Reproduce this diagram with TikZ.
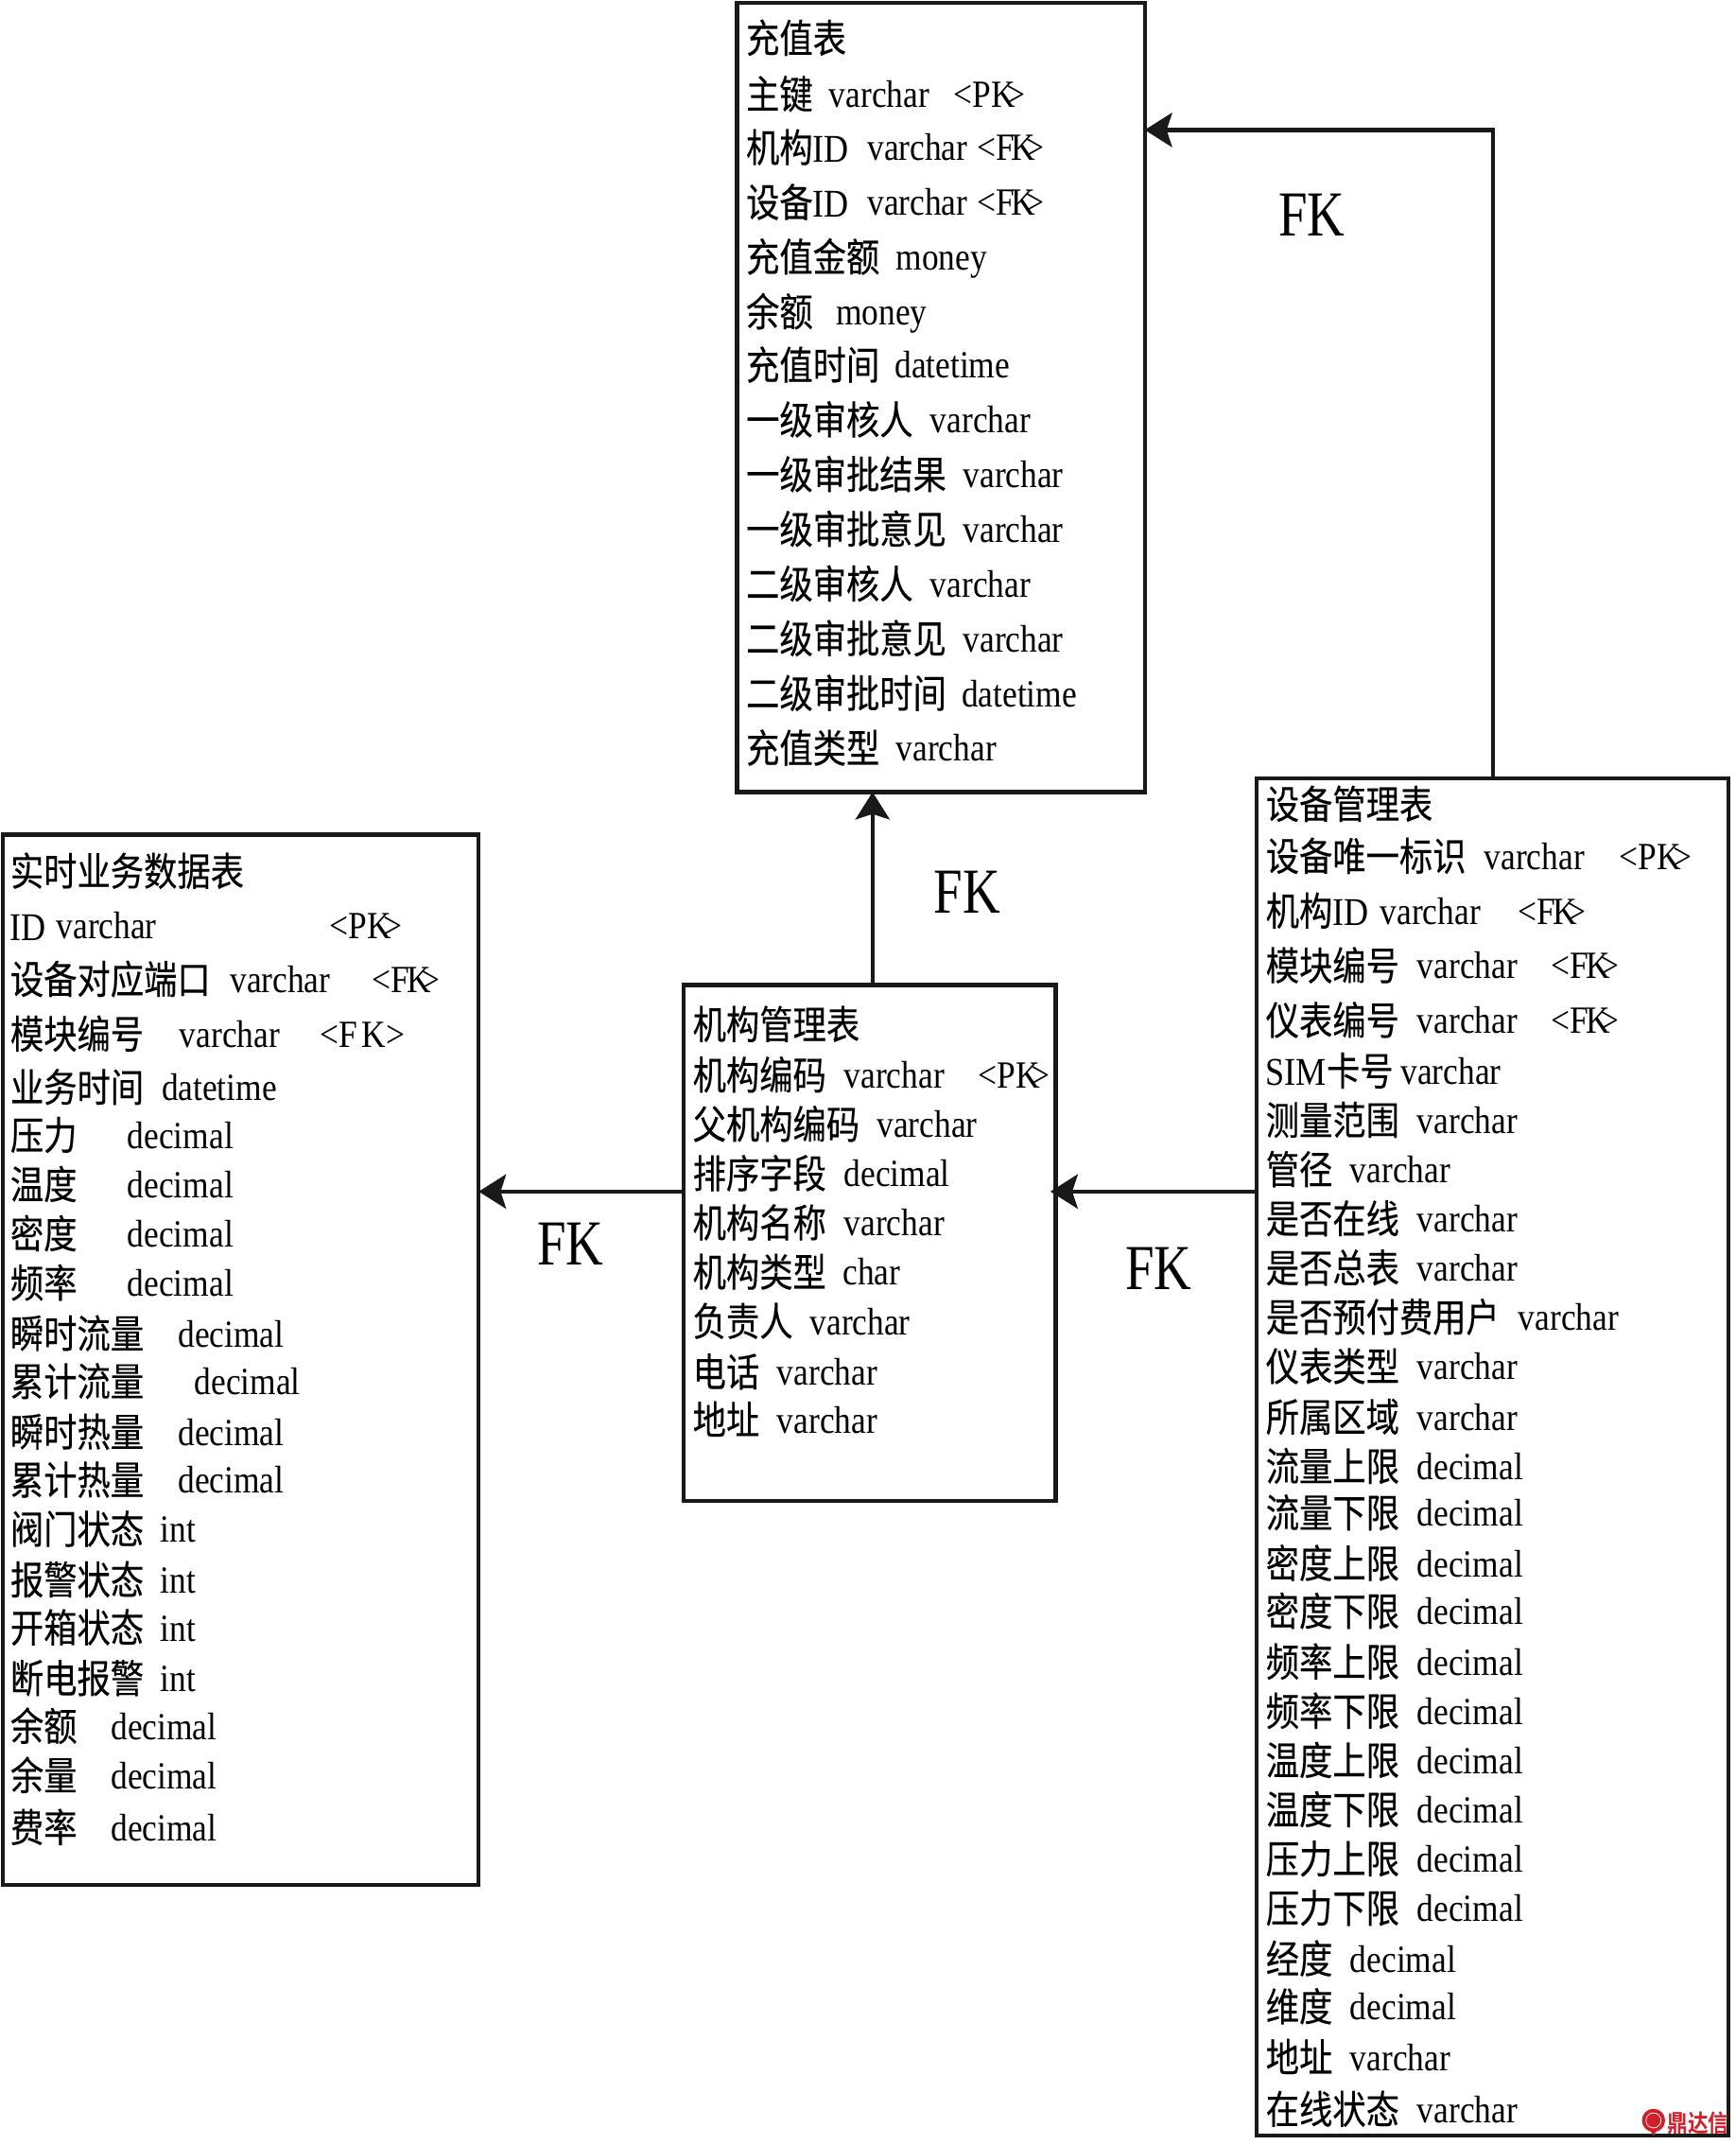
\documentclass[tikz,border=0pt]{standalone}
\usepackage{fontspec}
\setmainfont{Liberation Serif}
\newfontfamily\cjk[FakeStretch=0.85,FakeBold=0.25]{Noto Sans CJK SC}
\newfontfamily\cjkmark[FakeStretch=0.85]{Noto Sans CJK SC Bold}
\newfontfamily\lat[FakeStretch=0.87]{Liberation Serif}
\newfontfamily\labelfont[FakeStretch=0.81]{Liberation Serif}
\usetikzlibrary{arrows.meta}
\definecolor{markred}{HTML}{D0202A}
\newcommand{\pktag}{<PK\kern-.22em>}
\newcommand{\fktag}{<F\kern-.08em K\kern-.25em>}
\newcommand{\tablerows}[3]{%
	\foreach \ypos/\fname/\xtype/\ftype [count=\i] in {#3} {
		\node[field] (#1-\i) at (#2,\ypos) {\fname};
		\node[typetag] (#1-type-\i) at (\xtype,\ypos) {\ftype};
	}}
\tikzset{
	tablebox/.style={draw=black!90, line width=0.9mm, anchor=north west, inner sep=0pt, outer sep=0pt},
	field/.style={anchor=base west, inner sep=0pt, xshift=-0.2mm, yshift=-0.15mm, font=\cjk\fontsize{24.5}{28}\selectfont},
	typetag/.style={anchor=base west, inner sep=0pt, yshift=0.15mm, font=\lat\fontsize{24}{28}\selectfont},
	fklabel/.style={inner sep=0pt, font=\labelfont\fontsize{40}{44}\selectfont},
	link/.style={draw=black!90, line width=0.9mm, -{Stealth[length=6mm,width=7.5mm,inset=1.2mm]}}
}

\begin{document}
\begin{tikzpicture}[x=0.3mm, y=-0.3mm]
		\useasboundingbox (0,0) rectangle (1269,1568);
		% recharge table
		\node[tablebox, minimum width=89.4mm, minimum height=173.1mm] (recharge) at (539,2) {};
		\node[field] (recharge-title) at (546,38) {充值表};
		\tablerows{rc}{546}{
			79/主键/606/varchar,
			118/机构{\lat ID}/634/varchar,
			158/设备{\lat ID}/634/varchar,
			198/充值金额/655/money,
			238/余额/611/money,
			277/充值时间/654/datetime,
			317/一级审核人/680/varchar,
			357/一级审批结果/704/varchar,
			397/一级审批意见/704/varchar,
			437/二级审核人/680/varchar,
			477/二级审批意见/704/varchar,
			517/二级审批时间/703/datetime,
			557/充值类型/655/varchar}
		\node[typetag] (rc-pk) at (697,79) {\pktag};
		\node[typetag] (rc-fk1) at (714,118) {\fktag};
		\node[typetag] (rc-fk2) at (714,158) {\fktag};
		% realtime table
		\node[tablebox, minimum width=104.4mm, minimum height=230.4mm] (realtime) at (2,610) {};
		\node[field] (realtime-title) at (8,647) {实时业务数据表};
		\tablerows{rt}{8}{
			687/{\lat ID}/41/varchar,
			726/设备对应端口/168/varchar,
			766/模块编号/131/varchar,
			805/业务时间/118/datetime,
			840/压力/93/decimal,
			876/温度/93/decimal,
			912/密度/93/decimal,
			948/频率/93/decimal,
			985/瞬时流量/130/decimal,
			1020/累计流量/142/decimal,
			1057/瞬时热量/130/decimal,
			1092/累计热量/130/decimal,
			1128/阀门状态/117/int,
			1165/报警状态/117/int,
			1200/开箱状态/117/int,
			1237/断电报警/117/int,
			1272/余额/81/decimal,
			1308/余量/81/decimal,
			1346/费率/81/decimal}
		\node[typetag] (rt-pk) at (241,687) {\pktag};
		\node[typetag] (rt-fk1) at (272,726) {\fktag};
		\node[typetag] (rt-fk2) at (234,766) {<F\kern.1em K>};
		% organisation table
		\node[tablebox, minimum width=81.6mm, minimum height=113.1mm] (org) at (500,720) {};
		\node[field] (org-title) at (507,759) {机构管理表};
		\tablerows{og}{507}{
			796/机构编码/617/varchar,
			832/父机构编码/641/varchar,
			868/排序字段/617/decimal,
			904/机构名称/617/varchar,
			940/机构类型/616/char,
			976/负责人/592/varchar,
			1013/电话/568/varchar,
			1048/地址/568/varchar}
		\node[typetag] (og-pk) at (715,796) {\pktag};
		% device table
		\node[tablebox, minimum width=103.5mm, minimum height=297.6mm] (device) at (919,569) {};
		\node[field] (device-title) at (926,598) {设备管理表};
		\tablerows{dv}{926}{
			636/设备唯一标识/1085/varchar,
			676/机构{\lat ID}/1009/varchar,
			716/模块编号/1036/varchar,
			756/仪表编号/1036/varchar,
			793/{\lat SIM}卡号/1024/varchar,
			829/测量范围/1036/varchar,
			865/管径/987/varchar,
			901/是否在线/1036/varchar,
			937/是否总表/1036/varchar,
			973/是否预付费用户/1110/varchar,
			1009/仪表类型/1036/varchar,
			1046/所属区域/1036/varchar,
			1082/流量上限/1036/decimal,
			1116/流量下限/1036/decimal,
			1153/密度上限/1036/decimal,
			1188/密度下限/1036/decimal,
			1225/频率上限/1036/decimal,
			1261/频率下限/1036/decimal,
			1297/温度上限/1036/decimal,
			1333/温度下限/1036/decimal,
			1369/压力上限/1036/decimal,
			1405/压力下限/1036/decimal,
			1442/经度/987/decimal,
			1477/维度/987/decimal,
			1514/地址/987/varchar,
			1552/在线状态/1036/varchar}
		\node[typetag] (dv-pk) at (1184,636) {\pktag};
		\node[typetag] (dv-fk1) at (1110,676) {\fktag};
		\node[typetag] (dv-fk2) at (1134,716) {\fktag};
		\node[typetag] (dv-fk3) at (1134,756) {\fktag};
		% links
		\draw[link] (device.north) |- (recharge.east |- 0,95);
		\draw[link] (org.north -| 638,0) -- (recharge.south -| 638,0);
		\draw[link] (org.west |- 0,871) -- (realtime.east |- 0,871);
		\draw[link, shorten >=-1.2mm] (device.west |- 0,871) -- (org.east |- 0,871);
		\node[fklabel] (fk-a) at (959,157) {FK};
		\node[fklabel] (fk-b) at (707,652) {FK};
		\node[fklabel] (fk-c) at (417,909) {FK};
		\node[fklabel] (fk-d) at (847,927) {FK};
		% corner mark
		\fill[markred] (1209,1550) circle (8.5);
		\fill[markred] (1204,1554) -- (1214,1554) -- (1209,1561) -- cycle;
		\draw[white, line width=0.15mm] (1209,1550) circle (5.5);
		\node[inner sep=0pt, anchor=west, text=markred, font=\cjkmark\fontsize{15}{16}\selectfont] (mark) at (1219,1552) {鼎达信};
	\end{tikzpicture}
\end{document}
